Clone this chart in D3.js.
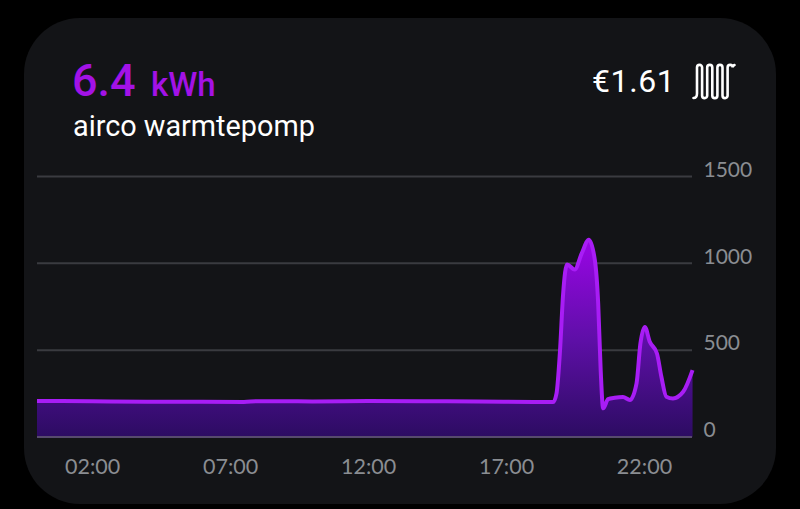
<!DOCTYPE html>
<html><head><meta charset="utf-8">
<script src="https://cdn.jsdelivr.net/npm/d3@7"></script>
<style>html,body{margin:0;padding:0;background:#000;overflow:hidden}svg{display:block}</style>
</head><body><svg id="c" width="800" height="509"></svg>
<script>
const hours=[0,2,4,6,7.5,8,10,12,14,16,18,18.71,18.83,18.95,19.07,19.21,19.49,19.74,20.0,20.22,20.34,20.43,20.52,20.70,20.94,21.24,21.49,21.73,21.87,22.03,22.21,22.47,22.63,22.81,23.05,23.42,23.76];
const watts=[208,206,203,203,202,206,205,207,206,204,202,201,251,481,826,994,964,1056,1136,1017,768,385,165,218,226,230,213,309,538,634,548,481,347,232,222,260,385];
const yTicks=[0,500,1000,1500];
const xTickHours=[2,7,12,17,22];
const xTickLabels=["02:00","07:00","12:00","17:00","22:00"];
const mainValue="6.4", mainUnit="kWh", deviceName="airco warmtepomp", cost="€1.61";

const svg=d3.select("#c");
svg.append("rect").attr("x",24).attr("y",18).attr("width",752).attr("height",486).attr("rx",56).attr("fill","#131417");

const x=d3.scaleLinear().domain([0,23.74]).range([37,692]);
const y=d3.scaleLinear().domain([0,1500]).range([437,176.5]);

const defs=svg.append("defs");
const g=defs.append("linearGradient").attr("id","fill").attr("gradientUnits","userSpaceOnUse")
 .attr("x1",0).attr("x2",0).attr("y1",y(1136)).attr("y2",y(0));
g.append("stop").attr("offset",0).attr("stop-color","#9a05e6");
g.append("stop").attr("offset",0.5).attr("stop-color","#5f0fa8");
g.append("stop").attr("offset",1).attr("stop-color","#2c0c62");

svg.append("g").selectAll("line").data(yTicks).join("line")
 .attr("x1",37).attr("x2",692).attr("y1",d=>y(d)).attr("y2",d=>y(d))
 .attr("stroke","#3a3b40").attr("stroke-width",2);

const pts=hours.map((h,i)=>[h,watts[i]]);
const curve=d3.curveMonotoneX;
svg.append("path").datum(pts).attr("fill","url(#fill)")
 .attr("d",d3.area().x(d=>x(d[0])).y0(y(0)).y1(d=>y(d[1])).curve(curve));
svg.append("line").attr("x1",37).attr("x2",692).attr("y1",y(0)).attr("y2",y(0))
 .attr("stroke","#574a6e").attr("stroke-width",2);
svg.append("path").datum(pts).attr("fill","none").attr("stroke","#a81df5").attr("stroke-width",4)
 .attr("stroke-linejoin","round")
 .attr("d",d3.line().x(d=>x(d[0])).y(d=>y(d[1])).curve(curve));

const yAxis=d3.axisRight(y).tickValues(yTicks).tickFormat(d3.format("d")).tickSize(0).tickPadding(0);
const ya=svg.append("g").attr("transform","translate(703.5,-7)").call(yAxis);
ya.select(".domain").remove();
ya.selectAll("text").attr("font-family","Lato").attr("font-size",21).attr("fill","#8a8d92");

const xAxis=d3.axisBottom(x).tickValues(xTickHours).tickFormat((d,i)=>xTickLabels[i]).tickSize(0).tickPadding(0);
const xa=svg.append("g").attr("transform","translate(0,459)").call(xAxis);
xa.select(".domain").remove();
xa.selectAll("text").attr("font-family","Lato").attr("font-size",21.5).attr("fill","#8a8d92");

const t=(s,px,py,size,fill,weight,fam)=>svg.append("text").text(s).attr("x",px).attr("y",py)
 .attr("font-size",size).attr("fill",fill).attr("font-weight",weight).attr("font-family",fam||"Roboto");
t(mainValue,72,96,45,"#a312e6",500);
t(mainUnit,151,96,33,"#a312e6",500);
t(deviceName,73,136,28.8,"#ffffff",400);
t(cost,592,91.5,32,"#ffffff",400).attr("letter-spacing",0.6);

// radiator icon
const iconTop=67.5, iconBot=95.5, r=2.6, step=5.1;
let d=`M693.5 98 Q697 98 697 ${iconBot-2}`, cx=697;
for(let i=0;i<7;i++){
  const nx=cx+step;
  if(i%2===0) d+=` V${iconTop} A${step/2} ${r} 0 0 1 ${nx} ${iconTop}`;
  else d+=` V${iconBot} A${step/2} ${r} 0 0 0 ${nx} ${iconBot}`;
  cx=nx;
}
d+=` V${iconTop} Q${cx} 65.5 734.5 65`;
svg.append("path").attr("d",d).attr("fill","none").attr("stroke","#fff").attr("stroke-width",2.6).attr("stroke-linecap","round");
</script></body></html>
